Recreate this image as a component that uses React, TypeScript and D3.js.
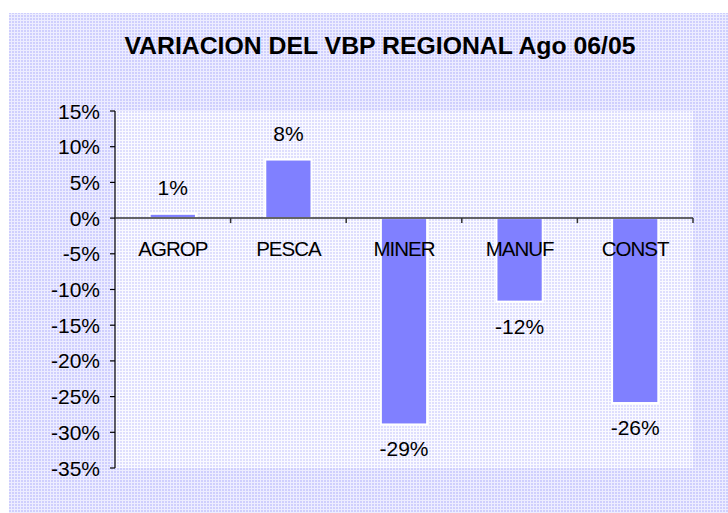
import React from "react";
import * as d3 from "d3";

const categories = ["AGROP", "PESCA", "MINER", "MANUF", "CONST"];
const values = [0.6, 8.2, -28.9, -11.7, -25.9];
const valueLabels = ["1%", "8%", "-29%", "-12%", "-26%"];
const yTicks = [15, 10, 5, 0, -5, -10, -15, -20, -25, -30, -35];
const title = "VARIACION DEL VBP REGIONAL Ago 06/05";

const W = 728;
const H = 513;
const plot = { left: 115, right: 693, top: 111, bottom: 468 };
const FONT = "'Liberation Sans', Arial, sans-serif";

export default function App() {
  const y = d3.scaleLinear().domain([-35, 15]).range([plot.bottom, plot.top]);
  const x = d3
    .scaleBand<string>()
    .domain(categories)
    .range([plot.left, plot.right])
    .paddingInner(0.6)
    .paddingOuter(0.3);
  const xb = d3.scaleBand<string>().domain(categories).range([plot.left, plot.right]);
  const y0 = y(0);

  return (
    <svg
      width={W}
      height={H}
      style={{ position: "absolute", left: 0, top: 0, display: "block" }}
      fontFamily={FONT}
    >
      <defs>
        <pattern id="outer" width="3" height="3" patternUnits="userSpaceOnUse">
          <rect width="3" height="3" fill="#ededff" />
          <rect width="2" height="2" fill="#cfcffd" />
        </pattern>
        <pattern id="inner" width="3" height="3" patternUnits="userSpaceOnUse">
          <rect width="3" height="3" fill="#fafaff" />
          <rect width="2" height="2" fill="#dedefd" />
        </pattern>
      </defs>
      <rect x={0} y={0} width={W} height={H} fill="#ffffff" />
      <rect x={9} y={13} width={W - 9} height={H - 13} fill="url(#outer)" />
      <rect
        x={plot.left}
        y={plot.top}
        width={plot.right - plot.left}
        height={plot.bottom - plot.top}
        fill="url(#inner)"
      />
      <text
        x={380}
        y={54}
        textAnchor="middle"
        fontWeight="bold"
        fontSize={24.8}
        fill="#000"
      >
        {title}
      </text>

      {categories.map((c, i) => {
        const v = values[i];
        const top = Math.min(y(v), y0);
        const h = Math.abs(y(v) - y0);
        return (
          <rect
            key={c}
            x={x(c)!}
            y={top}
            width={x.bandwidth()}
            height={h}
            fill="#8080ff"
            stroke="#ffffff"
            strokeWidth={2}
          />
        );
      })}

      {/* y axis */}
      <line x1={plot.left} x2={plot.left} y1={plot.top} y2={plot.bottom} stroke="#000" strokeWidth={1.2} />
      {yTicks.map((t) => (
        <g key={t}>
          <line x1={plot.left - 5} x2={plot.left} y1={y(t)} y2={y(t)} stroke="#000" strokeWidth={1.2} />
          <text x={100} y={y(t) + 7.5} textAnchor="end" fontSize={21} fill="#000">
            {t}%
          </text>
        </g>
      ))}

      {/* x axis at 0 */}
      <line x1={plot.left} x2={plot.right} y1={y0} y2={y0} stroke="#333" strokeWidth={1.5} />
      {categories.map((c) => (
        <line
          key={"t" + c}
          x1={xb(c)! + xb.bandwidth()}
          x2={xb(c)! + xb.bandwidth()}
          y1={y0}
          y2={y0 + 5}
          stroke="#333"
          strokeWidth={1.5}
        />
      ))}
      {categories.map((c) => (
        <text
          key={"l" + c}
          x={xb(c)! + xb.bandwidth() / 2}
          y={y0 + 38}
          textAnchor="middle"
          fontSize={20.5}
          letterSpacing={-1}
          fill="#000"
        >
          {c}
        </text>
      ))}

      {categories.map((c, i) => {
        const v = values[i];
        const cx = x(c)! + x.bandwidth() / 2;
        const ly = v >= 0 ? y(v) - 19 : y(v) + 32;
        return (
          <text key={"v" + c} x={cx} y={ly} textAnchor="middle" fontSize={21} fill="#000">
            {valueLabels[i]}
          </text>
        );
      })}
    </svg>
  );
}
